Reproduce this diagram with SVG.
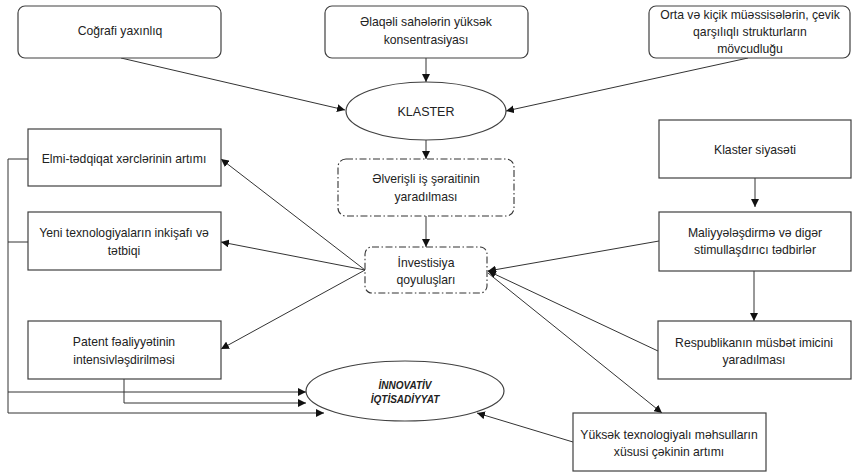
<svg xmlns="http://www.w3.org/2000/svg" width="853" height="472" viewBox="0 0 853 472">
<style>
.box{fill:#fff;stroke:#404040;stroke-width:1.2}
.dd{fill:#fff;stroke:#333;stroke-width:1.1;stroke-dasharray:7 2.5 1.5 2.5}
.t{font-family:"Liberation Sans",Arial,sans-serif;font-size:12.2px;fill:#222;text-anchor:middle}
.b{font-weight:bold;font-style:italic;font-size:10px}
.k{font-size:12.5px}
.c line,.c polyline{stroke:#333;stroke-width:1;fill:none}
.a{marker-end:url(#ah)}
</style>
<defs>
<marker id="ah" markerUnits="userSpaceOnUse" markerWidth="9" markerHeight="8" refX="8" refY="4" orient="auto">
<path d="M0,0 L8,4 L0,8 z" fill="#111"/>
</marker>
</defs>
<rect width="853" height="472" fill="#fff"/>
<g class="c">
<line class="a" x1="121" y1="58" x2="345" y2="110"/>
<line class="a" x1="426" y1="58" x2="426" y2="82"/>
<line class="a" x1="748" y1="58" x2="506" y2="111"/>
<line class="a" x1="426" y1="140" x2="426" y2="159"/>
<line class="a" x1="426" y1="216" x2="426" y2="247"/>
<line class="a" x1="365" y1="270" x2="221" y2="159"/>
<line class="a" x1="365" y1="270" x2="221" y2="242"/>
<line class="a" x1="365" y1="270" x2="221" y2="349"/>
<line class="a" x1="755" y1="178" x2="755" y2="207"/>
<line class="a" x1="659" y1="241" x2="488" y2="271"/>
<line class="a" x1="754" y1="271" x2="754" y2="321"/>
<line class="a" x1="658" y1="351" x2="488" y2="271"/>
<line class="a" x1="488" y1="273" x2="662" y2="413"/>
<line class="a" x1="573" y1="442" x2="477" y2="413"/>
<polyline class="a" points="28,159 8,159 8,392 306,392"/>
<polyline points="28,242 8,242"/>
<polyline class="a" points="8,392 8,413 324,413"/>
<polyline class="a" points="124,379 124,403 306,403"/>
</g>
<g id="cografi">
<rect class="box" x="18" y="6" width="203" height="52" rx="7"/>
<text class="t" x="120" y="35">Coğrafi yaxınlıq</text>
</g>
<g id="elaqeli">
<rect class="box" x="325" y="6" width="203" height="52" rx="7"/>
<text class="t" x="426" y="26">Əlaqəli sahələrin yüksək</text>
<text class="t" x="426" y="44">konsentrasiyası</text>
</g>
<g id="orta">
<rect class="box" x="649" y="6" width="201" height="52" rx="7"/>
<text class="t" x="750" y="19">Orta və kiçik müəssisələrin, çevik</text>
<text class="t" x="750" y="36">qarşılıqlı strukturların</text>
<text class="t" x="750" y="53">mövcudluğu</text>
</g>
<g id="klaster">
<ellipse class="box" cx="426" cy="111" rx="80" ry="29"/>
<text class="t k" x="426" y="116">KLASTER</text>
</g>
<g id="elverisli">
<rect class="dd" x="338" y="159" width="176" height="57" rx="8"/>
<text class="t" x="426" y="183">Əlverişli iş şəraitinin</text>
<text class="t" x="426" y="201">yaradılması</text>
</g>
<g id="investisiya">
<rect class="dd" x="365" y="247" width="122" height="46" rx="7"/>
<text class="t" x="426" y="267">İnvestisiya</text>
<text class="t" x="426" y="284">qoyuluşları</text>
</g>
<g id="elmi">
<rect class="box" x="28" y="129" width="193" height="57"/>
<text class="t" x="124" y="163">Elmi-tədqiqat xərclərinin artımı</text>
</g>
<g id="yeni">
<rect class="box" x="28" y="212" width="193" height="58"/>
<text class="t" x="124" y="237">Yeni texnologiyaların inkişafı və</text>
<text class="t" x="124" y="255">tətbiqi</text>
</g>
<g id="patent">
<rect class="box" x="28" y="321" width="193" height="58"/>
<text class="t" x="124" y="346">Patent fəaliyyətinin</text>
<text class="t" x="124" y="364">intensivləşdirilməsi</text>
</g>
<g id="innovativ">
<ellipse class="box" cx="405" cy="391" rx="99" ry="30"/>
<text class="t b" x="405" y="389">İNNOVATİV</text>
<text class="t b" x="405" y="403">İQTİSADİYYAT</text>
</g>
<g id="siyaset">
<rect class="box" x="659" y="120" width="192" height="58"/>
<text class="t" x="755" y="154">Klaster siyasəti</text>
</g>
<g id="maliyye">
<rect class="box" x="659" y="212" width="192" height="59"/>
<text class="t" x="755" y="237">Maliyyələşdirmə və digər</text>
<text class="t" x="755" y="254">stimullaşdırıcı tədbirlər</text>
</g>
<g id="respublika">
<rect class="box" x="658" y="321" width="193" height="58"/>
<text class="t" x="754" y="347">Respublikanın müsbət imicini</text>
<text class="t" x="754" y="364">yaradılması</text>
</g>
<g id="yuksek">
<rect class="box" x="573" y="413" width="193" height="58"/>
<text class="t" x="669" y="439">Yüksək texnologiyalı məhsulların</text>
<text class="t" x="669" y="456">xüsusi çəkinin artımı</text>
</g>
</svg>
